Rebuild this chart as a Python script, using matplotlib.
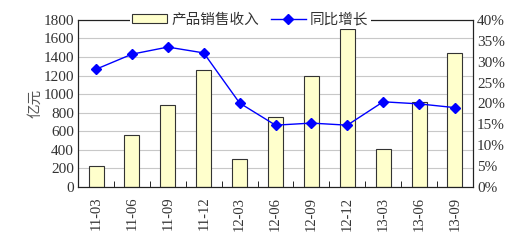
import numpy as np
import matplotlib.pyplot as plt
from matplotlib.ticker import FuncFormatter

plt.rcParams['font.family'] = ['Liberation Serif', 'Noto Sans CJK SC']

# 数据
quarters = ["11-03", "11-06", "11-09", "11-12", "12-03", "12-06",
            "12-09", "12-12", "13-03", "13-06", "13-09"]
revenue = [230, 565, 885, 1265, 305, 758, 1200, 1700, 410, 920, 1448]
growth = [28.2, 31.8, 33.5, 32.1, 20.1, 14.8, 15.3, 14.8, 20.4, 19.9, 19.0]

fig = plt.figure(figsize=(5.14, 2.49), dpi=100)
ax = fig.add_axes([0.152, 0.249, 0.768, 0.671])
ax2 = ax.twinx()

x = np.arange(len(quarters))
bars = ax.bar(x, revenue, width=0.42, color="#FFFFCC", edgecolor="#333333",
              linewidth=0.8, label="产品销售收入", zorder=2)
line, = ax2.plot(x, growth, color="#0000FF", marker="D", markersize=5,
                 linewidth=1, label="同比增长")

ax.set_xlim(-0.5, len(quarters) - 0.5)
ax.set_ylim(0, 1800)
ax.set_yticks(np.arange(0, 1801, 200))
ax2.set_ylim(0, 40)
ax2.set_yticks(np.arange(0, 41, 5))
ax2.yaxis.set_major_formatter(FuncFormatter(lambda v, p: f"{v:.0f}%"))

ax.yaxis.grid(True, color="#C8C8C8", linewidth=0.8, zorder=0)
ax.set_axisbelow(True)

# x轴刻度在柱子之间
ax.set_xticks(x)
ax.set_xticklabels(quarters, rotation=90, fontsize=10.5, color="#333333")
ax.set_xticks(np.arange(-0.5, len(quarters), 1), minor=True)
ax.tick_params(axis="x", which="major", length=0, pad=7)
ax.tick_params(axis="x", which="minor", length=4, direction="in")
ax.tick_params(axis="y", length=0, labelsize=11, colors="#333333", pad=3)
ax2.tick_params(axis="y", length=0, labelsize=11, colors="#333333", pad=3)

for a in (ax, ax2):
    for s in a.spines.values():
        s.set_color("#222222")
        s.set_linewidth(0.8)

ax.set_ylabel("亿元", fontsize=10.5, color="#555555", labelpad=1)

leg = fig.legend([bars, line], ["产品销售收入", "同比增长"], loc="center",
                 bbox_to_anchor=(0.487, 0.92), ncol=2, frameon=True,
                 fancybox=False, edgecolor="none", framealpha=1,
                 fontsize=10.5, handlelength=2.4, handleheight=0.6,
                 columnspacing=0.8, borderpad=0.15, handletextpad=0.3)
for t in leg.get_texts():
    t.set_color("#333333")

fig.savefig("out.png", dpi=100)
